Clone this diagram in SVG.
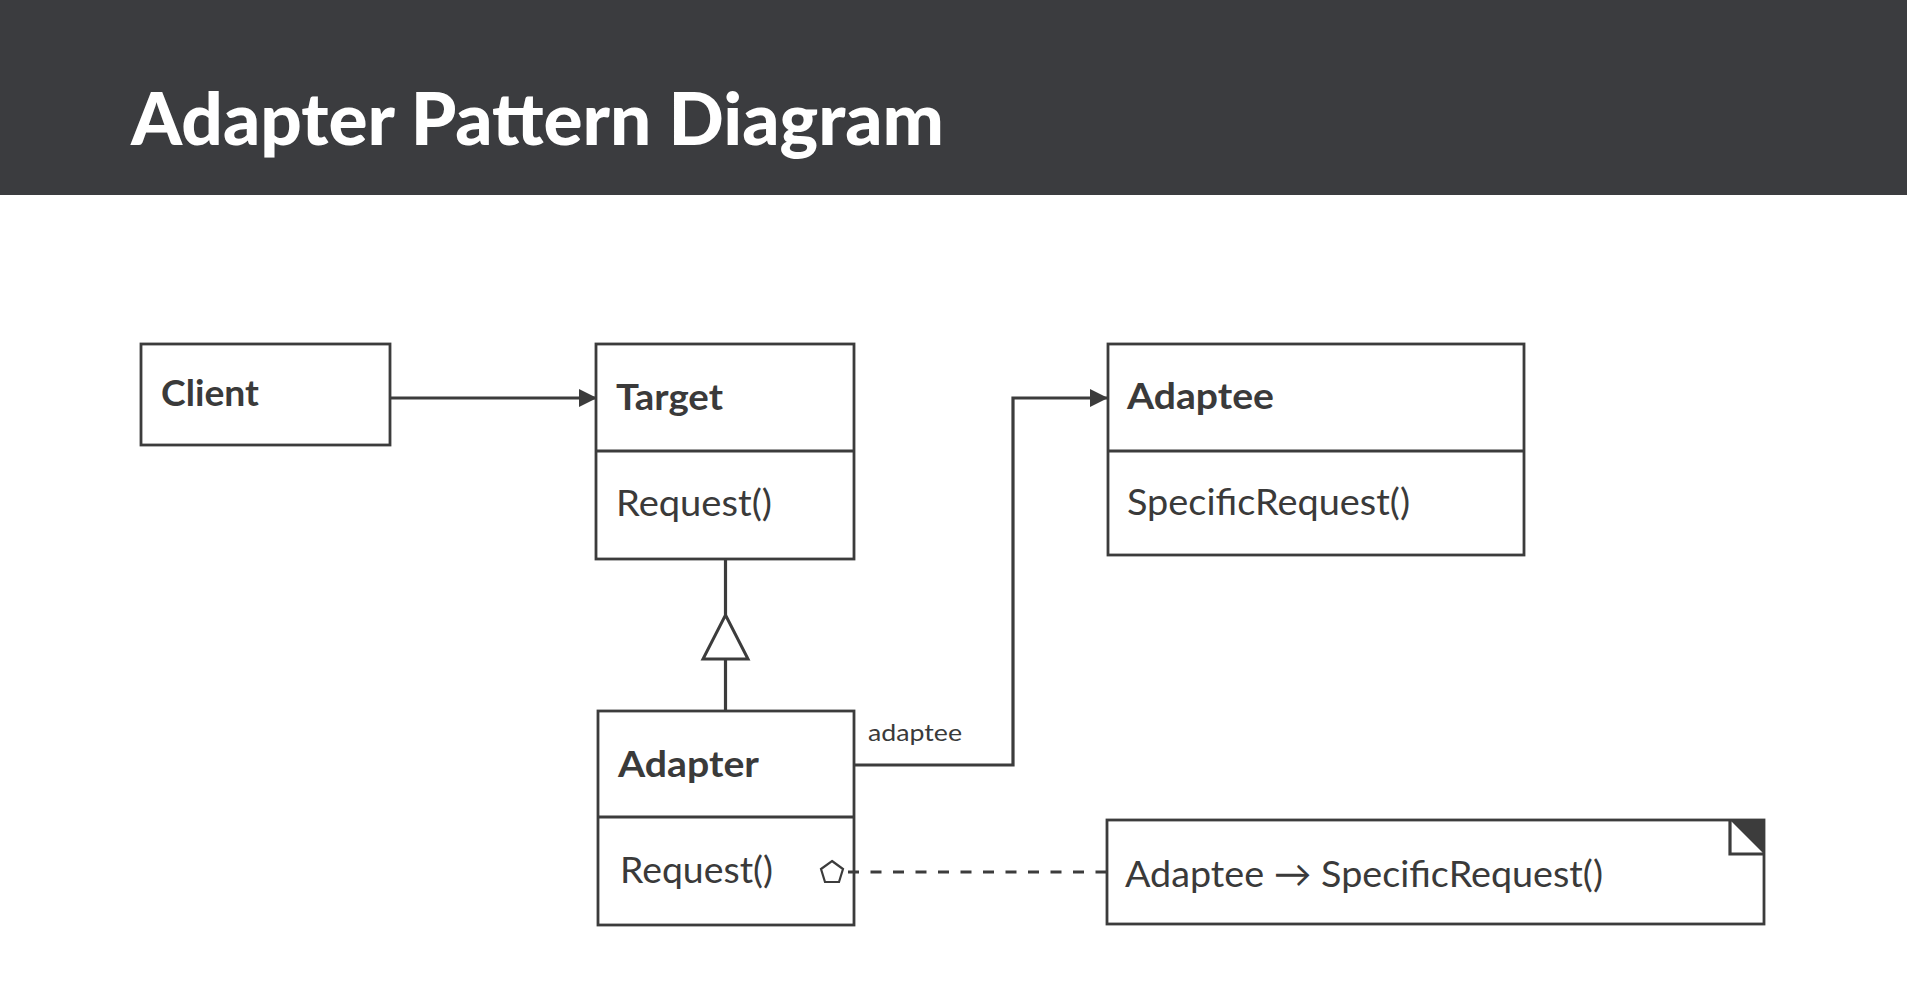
<svg xmlns="http://www.w3.org/2000/svg" width="1907" height="994" viewBox="0 0 1907 994">
<defs>
<style>
.box{fill:#fff;stroke:#3c3c3c;stroke-width:2.8}
.ln{fill:none;stroke:#3c3c3c;stroke-width:3.2}
.cls{font-family:Lato,"Noto Sans",sans-serif;font-weight:700;font-size:37px;fill:#3a3a3a}
.mth{font-family:Lato,"Noto Sans",sans-serif;font-weight:400;font-size:37px;fill:#3a3a3a}
.lbl{font-family:Lato,"Noto Sans",sans-serif;font-weight:400;font-size:24px;fill:#3a3a3a}
</style>
<marker id="arr" viewBox="0 0 18 18" refX="17" refY="9" markerWidth="18" markerHeight="18" markerUnits="userSpaceOnUse" orient="auto">
<path d="M0,0 L18,9 L0,18 Z" fill="#3c3c3c"/>
</marker>
</defs>
<rect width="1907" height="994" fill="#fff"/>
<g id="header">
<rect x="0" y="0" width="1907" height="195" fill="#3b3c3f"/>
<text x="131" y="145" font-family="Lato,'Noto Sans',sans-serif" font-weight="900" font-size="72" fill="#fff" textLength="813" lengthAdjust="spacingAndGlyphs">Adapter Pattern Diagram</text>
</g>
<g id="client">
<rect class="box" x="141" y="344" width="249" height="101"/>
<text class="cls" x="161" y="406" textLength="98" lengthAdjust="spacingAndGlyphs">Client</text>
</g>
<g id="target">
<rect class="box" x="596" y="344" width="258" height="215"/>
<line class="ln" x1="596" y1="451" x2="854" y2="451" stroke-width="2.8"/>
<text class="cls" x="616" y="410" textLength="107" lengthAdjust="spacingAndGlyphs">Target</text>
<text class="mth" x="616" y="516" textLength="156" lengthAdjust="spacingAndGlyphs">Request()</text>
</g>
<g id="adaptee">
<rect class="box" x="1108" y="344" width="416" height="211"/>
<line class="ln" x1="1108" y1="451" x2="1524" y2="451" stroke-width="2.8"/>
<text class="cls" x="1127" y="409" textLength="147" lengthAdjust="spacingAndGlyphs">Adaptee</text>
<text class="mth" x="1127" y="515" textLength="283" lengthAdjust="spacingAndGlyphs">SpecificRequest()</text>
</g>
<g id="adapter">
<rect class="box" x="598" y="711" width="256" height="214"/>
<line class="ln" x1="598" y1="817" x2="854" y2="817" stroke-width="2.8"/>
<text class="cls" x="618" y="777" textLength="141" lengthAdjust="spacingAndGlyphs">Adapter</text>
<text class="mth" x="620" y="883" textLength="153" lengthAdjust="spacingAndGlyphs">Request()</text>
</g>
<g id="note">
<rect class="box" x="1107" y="820" width="657" height="104"/>
<polygon points="1730,820 1764,820 1764,854" fill="#3c3c3c"/>
<polyline class="ln" points="1730,820 1730,854 1764,854" stroke-width="2.2"/>
<text class="mth" x="1125" y="887" textLength="478" lengthAdjust="spacingAndGlyphs">Adaptee → SpecificRequest()</text>
</g>
<g id="connectors">
<line class="ln" x1="390" y1="398" x2="596" y2="398" marker-end="url(#arr)"/>
<polyline class="ln" points="854,765 1013,765 1013,398 1107,398" marker-end="url(#arr)"/>
<line class="ln" x1="725.5" y1="559" x2="725.5" y2="615"/>
<polygon points="725.5,615 748,659 703,659" fill="#fff" stroke="#3c3c3c" stroke-width="3"/>
<line class="ln" x1="725.5" y1="659" x2="725.5" y2="711"/>
<line class="ln" x1="848" y1="872" x2="1107" y2="872" stroke-dasharray="11,11.5" stroke-width="4.5"/>
<polygon points="832,861 843,869 839,882 825,882 821,869" fill="#fff" stroke="#3c3c3c" stroke-width="2.2"/>
<text class="lbl" x="868" y="741" textLength="94" lengthAdjust="spacingAndGlyphs">adaptee</text>
</g>
</svg>
